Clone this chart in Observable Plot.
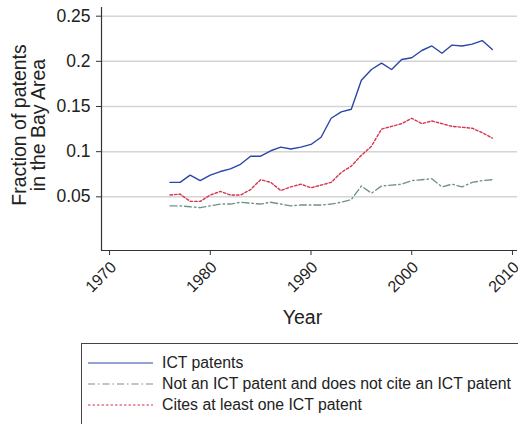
<!DOCTYPE html>
<html>
<head>
<meta charset="utf-8">
<script src="https://cdn.jsdelivr.net/npm/d3@7"></script>
<script src="https://cdn.jsdelivr.net/npm/@observablehq/plot@0.6"></script>
<style>
  html, body { margin: 0; padding: 0; background: #fff; }
  body { width: 518px; height: 424px; overflow: hidden; font-family: "Liberation Sans", Arial, sans-serif; }
  #legend { position: absolute; left: 81px; top: 343px; width: 460px; height: 100px; border: 1px solid #444; box-sizing: border-box; }
  .row { position: absolute; left: 0; height: 20px; display: flex; align-items: center; font-size: 15.8px; color: #222; white-space: nowrap; }
  .row svg { margin-left: 6px; margin-right: 9px; }
</style>
</head>
<body>
<div id="chart"></div>
<div id="legend"></div>
<script>
const years = d3.range(1976, 2009);
const ictPatents = [0.066, 0.066, 0.074, 0.068, 0.074, 0.078, 0.081, 0.086, 0.095, 0.095, 0.101, 0.105, 0.103, 0.105, 0.108, 0.116, 0.137, 0.144, 0.147, 0.179, 0.191, 0.198, 0.191, 0.202, 0.204, 0.212, 0.217, 0.209, 0.218, 0.217, 0.219, 0.223, 0.213];
const notIct = [0.040, 0.040, 0.039, 0.038, 0.040, 0.042, 0.042, 0.044, 0.043, 0.042, 0.044, 0.042, 0.040, 0.041, 0.041, 0.041, 0.042, 0.044, 0.047, 0.062, 0.054, 0.062, 0.063, 0.064, 0.068, 0.069, 0.070, 0.061, 0.064, 0.061, 0.066, 0.068, 0.069];
const citesIct = [0.052, 0.053, 0.045, 0.045, 0.052, 0.056, 0.052, 0.052, 0.058, 0.069, 0.066, 0.057, 0.061, 0.064, 0.060, 0.063, 0.066, 0.077, 0.084, 0.096, 0.106, 0.125, 0.128, 0.131, 0.137, 0.131, 0.134, 0.131, 0.128, 0.127, 0.126, 0.121, 0.115];
const seriesNames = ["ICT patents", "Not an ICT patent and does not cite an ICT patent", "Cites at least one ICT patent"];
const seriesColors = ["#2a46a6", "#6f9385", "#d6334c"];
const seriesDash = [null, "7,3,1.5,3", "2.5,2"];
const xTicks = [1970, 1980, 1990, 2000, 2010];
const yTicks = [0.05, 0.1, 0.15, 0.2, 0.25];
const xDomain = [1969.2, 2010.5];
const yDomain = [-0.0094, 0.2596];

const seriesValues = [ictPatents, notIct, citesIct];
const data = [];
seriesValues.forEach((vals, si) => {
  vals.forEach((v, i) => data.push({year: years[i], value: v, series: seriesNames[si]}));
});

const font = "Liberation Sans, Arial, sans-serif";
const chart = Plot.plot({
  width: 518,
  height: 343,
  marginLeft: 101,
  marginRight: 1,
  marginTop: 7,
  marginBottom: 93,
  style: {fontFamily: font, fontSize: "16px", color: "#222", background: "#fff"},
  x: {domain: xDomain},
  y: {domain: yDomain},
  marks: [
    Plot.gridY(yTicks, {stroke: "#d4d4d4", strokeOpacity: 1, strokeWidth: 1.5}),
    Plot.ruleX([xDomain[0]], {stroke: "#333", strokeWidth: 1.2}),
    Plot.ruleY([yDomain[0]], {stroke: "#333", strokeWidth: 1.2}),
    Plot.axisY(yTicks, {tickSize: 5, tickPadding: 6, tickFormat: d => String(d), label: null, stroke: "#333", fontSize: 17.5}),
    Plot.axisX(xTicks, {tickSize: 5, tickFormat: () => "", label: null, stroke: "#333"}),
    Plot.axisX(xTicks, {tickSize: 0, tickRotate: -45, tickPadding: 14, dx: 4, tickFormat: d => String(d), label: null, fontSize: 16}),
    ...seriesNames.map((name, si) => Plot.line(data.filter(d => d.series === name), {
      x: "year", y: "value", stroke: seriesColors[si], strokeWidth: 1.4,
      strokeDasharray: seriesDash[si] || undefined
    })),
    Plot.text(["Year"], {frameAnchor: "bottom", lineAnchor: "middle", textAnchor: "middle", dy: 67, dx: -7, fontSize: 19.5, fill: "#222"}),
    Plot.text(["Fraction of patents\nin the Bay Area"], {frameAnchor: "left", textAnchor: "middle", lineAnchor: "middle", dx: -72, dy: -4, rotate: -90, fontSize: 19.5, lineHeight: 0.95, fill: "#222"})
  ]
});
document.getElementById("chart").appendChild(chart);

const legend = document.getElementById("legend");
seriesNames.forEach((name, si) => {
  const row = document.createElement("div");
  row.className = "row";
  row.style.top = (9 + si * 21) + "px";
  const dash = seriesDash[si] ? ` stroke-dasharray="${seriesDash[si]}"` : "";
  row.innerHTML = `<svg width="65" height="4"><line x1="0" y1="2" x2="65" y2="2" stroke="${seriesColors[si]}" stroke-width="1.2"${dash}/></svg><span>${name}</span>`;
  legend.appendChild(row);
});
</script>
</body>
</html>
